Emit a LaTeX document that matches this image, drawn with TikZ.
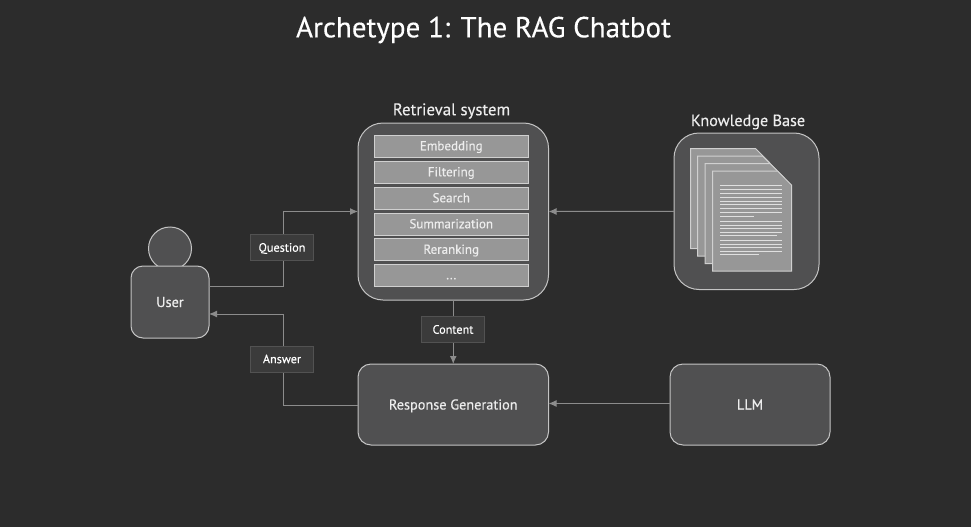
\documentclass[tikz,border=0pt]{standalone}
\usepackage{fontspec}
\setmainfont{PT Sans}[FakeBold=0.3]
\usetikzlibrary{arrows.meta}
\definecolor{bgc}{HTML}{2C2C2C}
\definecolor{boxfill}{HTML}{505051}
\definecolor{boxline}{HTML}{C4C4C4}
\definecolor{innerfill}{HTML}{979797}
\definecolor{innerline}{HTML}{D0D0D0}
\definecolor{tagfill}{HTML}{3B3B3B}
\definecolor{tagline}{HTML}{525252}
\definecolor{conn}{HTML}{8C8C8C}
\definecolor{txt}{HTML}{EDEDED}
\tikzset{
  x=1pt,y=-1pt,
  every node/.style={inner sep=0pt,outer sep=0pt,text=txt},
  bigbox/.style={draw=boxline,fill=boxfill,line width=1pt,text height=11pt,text depth=1pt,font=\fontsize{14.3}{16}\selectfont},
  stepbox/.style={draw=innerline,fill=innerfill,line width=1pt,minimum width=154.5pt,minimum height=22pt,text height=9.5pt,text depth=1pt,font=\fontsize{13}{15}\selectfont},
  tag/.style={draw=tagline,fill=tagfill,line width=1pt,minimum width=62.5pt,minimum height=26pt,text height=9.4pt,text depth=1pt,text=white,font=\fontsize{12.2}{13}\selectfont},
  link/.style={draw=conn,line width=1pt},
  arrowed/.style={link,-{Latex[length=8pt,width=7pt]}},
  sheet/.style={draw=innerline,fill=innerfill,line width=1pt},
  textline/.style={draw=white!88!black,line width=1pt}
}
\newcommand{\pageshape}[2]{\draw[sheet] (#1,#2) -- (#1+65,#2) -- (#1+79,#2+14) -- (#1+79,#2+100) -- (#1,#2+100) -- cycle;}
\begin{document}
\begin{tikzpicture}
\useasboundingbox[fill=bgc] (0,0) rectangle (971,527);
\node[font=\fontsize{29}{32}\selectfont,text=white] (title) at (483.5,30) {Archetype 1: The RAG Chatbot};

% user
\node[draw=boxline,fill=boxfill,line width=1pt,circle,minimum size=43pt] (head) at (170,248.5) {};
\node[bigbox,rounded corners=12pt,minimum width=78pt,minimum height=72pt] (user) at (170,302) {User};

% retrieval
\node[font=\fontsize{16.8}{18}\selectfont] (rcap) at (451.5,111) {Retrieval system};
\node[bigbox,rounded corners=25pt,minimum width=190.5pt,minimum height=177pt] (retr) at (453.25,211.5) {};
\node[stepbox] (s1) at (451.25,146) {Embedding};
\node[stepbox] (s2) at (451.25,172) {Filtering};
\node[stepbox] (s3) at (451.25,198) {Search};
\node[stepbox] (s4) at (451.25,224) {Summarization};
\node[stepbox] (s5) at (451.25,249.5) {Reranking};
\node[stepbox] (s6) at (451.25,275) {...};

% knowledge base
\node[font=\fontsize{16.2}{18}\selectfont] (kcap) at (748,122) {Knowledge Base};
\node[bigbox,rounded corners=25pt,minimum width=145pt,minimum height=156.5pt] (kb) at (746.5,211.25) {};
\pageshape{690.5}{148.5}
\pageshape{697.5}{156}
\pageshape{705}{163.5}
\pageshape{712.5}{171}
\foreach \v in {256,268,280,292,303,314,325,337,365,376,386,396,421,432,443,454}
  \draw[textline] (720,100+\v/3) -- (781.5,100+\v/3);
\draw[textline] (720,216) -- (754,216);
\draw[textline] (720,235.7) -- (777,235.7);
\draw[textline] (720,254.7) -- (759,254.7);

% response, llm
\node[bigbox,rounded corners=13pt,minimum width=190.5pt,minimum height=81pt] (resp) at (453.25,404.5) {Response Generation};
\node[bigbox,rounded corners=13pt,minimum width=160pt,minimum height=81pt] (llm) at (750,404.5) {LLM};

% connectors
\coordinate (qbend) at (283.5,286.5);
\coordinate (abend) at (283.5,405);
\draw[arrowed] (user.east |- qbend) -- (qbend) -- (qbend |- retr.east) -- (retr.west);
\draw[arrowed] (resp.west |- abend) -- (abend) -- (283.5,314) -- (user.east |- 0,314);
\draw[arrowed] (retr.south) -- (resp.north);
\draw[arrowed] (kb.west) -- (retr.east);
\draw[arrowed] (llm.west |- 0,403.5) -- (resp.east |- 0,403.5);

% tags
\node[tag] (q) at (282,247.5) {Question};
\node[tag] (a) at (282,359) {Answer};
\node[tag] (c) at (453,329.5) {Content};
\end{tikzpicture}
\end{document}
